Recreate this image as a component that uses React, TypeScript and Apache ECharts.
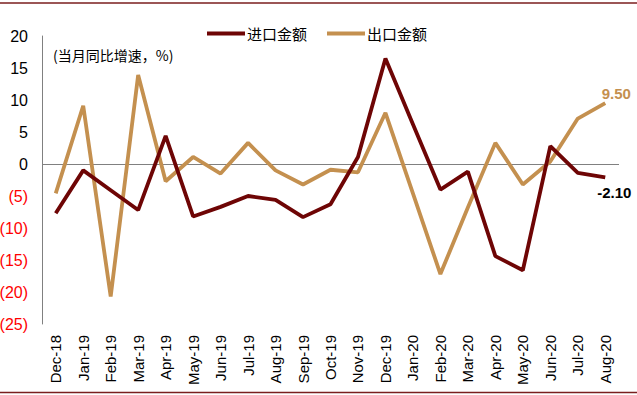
import React, { useEffect, useRef } from "react";
import * as echarts from "echarts";

const categories = [
  "Dec-18", "Jan-19", "Feb-19", "Mar-19", "Apr-19", "May-19", "Jun-19", "Jul-19",
  "Aug-19", "Sep-19", "Oct-19", "Nov-19", "Dec-19", "Jan-20", "Feb-20", "Mar-20",
  "Apr-20", "May-20", "Jun-20", "Jul-20", "Aug-20",
];
const importValues = [
  -7.7, -1.0, -4.1, -7.2, 4.4, -8.2, -6.7, -5.0, -5.6, -8.3, -6.3, 1.1, 16.5, 6.2,
  -4.0, -1.2, -14.4, -16.6, 2.8, -1.4, -2.1,
];
const exportValues = [
  -4.6, 9.1, -20.7, 13.9, -2.7, 1.1, -1.5, 3.3, -1.0, -3.2, -0.9, -1.3, 8.0, -4.6,
  -17.2, -6.8, 3.3, -3.2, 0.4, 7.1, 9.5,
];
const seriesNames = ["进口金额", "出口金额"];
const subtitle = "(当月同比增速，%)";
const yMin = -25;
const yMax = 20;
const yInterval = 5;

const IMPORT_COLOR = "#6E0505";
const EXPORT_COLOR = "#C4904F";
const LATIN = "'Liberation Sans', Arial, sans-serif";
const CJK = "'Noto Sans CJK SC', sans-serif";

function withEndLabel(values: number[], labelCfg: any) {
  return values.map((v, i) =>
    i === values.length - 1 ? { value: v, label: { show: true, ...labelCfg } } : v
  );
}

export default function App() {
  const ref = useRef<HTMLDivElement>(null);
  useEffect(() => {
    if (!ref.current) return;
    const chart = echarts.init(ref.current, null, { renderer: "svg" });
    chart.setOption({
      animation: false,
      backgroundColor: "#ffffff",
      grid: {
        left: 42,
        right: 18,
        top: 36,
        bottom: 71,
        containLabel: false,
        outerBoundsMode: "none",
      },
      title: {
        text: subtitle,
        left: 48,
        top: 43,
        textStyle: { fontFamily: CJK, fontSize: 14, fontWeight: "normal", color: "#000" },
      },
      legend: {
        data: seriesNames,
        left: 202,
        top: 21,
        icon: "rect",
        itemWidth: 38,
        itemHeight: 4,
        itemGap: 20,
        textStyle: { fontFamily: CJK, fontSize: 15, color: "#000", padding: [0, 0, 0, -3] },
      },
      xAxis: {
        type: "category",
        data: categories,
        boundaryGap: true,
        axisLine: { show: false },
        axisTick: { show: false },
        axisLabel: {
          rotate: 90,
          interval: 0,
          margin: 11,
          fontFamily: LATIN,
          fontSize: 15,
          color: "#000",
        },
      },
      yAxis: {
        type: "value",
        min: yMin,
        max: yMax,
        interval: yInterval,
        axisLine: { show: true, lineStyle: { color: "#808080", width: 1 } },
        axisTick: { show: false },
        splitLine: { show: false },
        axisLabel: {
          margin: 14,
          fontFamily: LATIN,
          fontSize: 16,
          color: (v: any) => (Number(v) < 0 ? "#FF0000" : "#000000"),
          formatter: (v: number) => (v < 0 ? `(${-v})` : `${v}`),
        },
      },
      series: [
        {
          name: seriesNames[0],
          type: "line",
          data: withEndLabel(importValues, {
            position: "bottom",
            offset: [9, 3],
            formatter: (p: any) => Number(p.value).toFixed(2),
            fontFamily: LATIN,
            fontSize: 15,
            fontWeight: "bold",
            color: "#000",
          }),
          symbol: "circle",
          symbolSize: 0,
          showSymbol: true,
          itemStyle: { color: IMPORT_COLOR },
          lineStyle: { color: IMPORT_COLOR, width: 3.8 },
          z: 3,
          markLine: {
            silent: true,
            symbol: "none",
            label: { show: false },
            lineStyle: { color: "#808080", width: 1, type: "solid" },
            data: [{ yAxis: 0 }],
            z: 1,
          },
        },
        {
          name: seriesNames[1],
          type: "line",
          data: withEndLabel(exportValues, {
            position: "top",
            offset: [11, 3],
            formatter: (p: any) => Number(p.value).toFixed(2),
            fontFamily: LATIN,
            fontSize: 15,
            fontWeight: "bold",
            color: EXPORT_COLOR,
          }),
          symbol: "circle",
          symbolSize: 0,
          showSymbol: true,
          itemStyle: { color: EXPORT_COLOR },
          lineStyle: { color: EXPORT_COLOR, width: 3.8 },
          z: 2,
        },
      ],
      graphic: [
        { type: "line", shape: { x1: 0, y1: 3, x2: 637, y2: 3 }, style: { stroke: "#7A1E1E", lineWidth: 1.5 } },
        { type: "line", shape: { x1: 0, y1: 392.5, x2: 637, y2: 392.5 }, style: { stroke: "#7A1E1E", lineWidth: 1.5 } },
      ],
    });
    return () => chart.dispose();
  }, []);
  return (
    <div
      ref={ref}
      style={{ position: "absolute", left: 0, top: 0, width: 637, height: 395 }}
    />
  );
}
